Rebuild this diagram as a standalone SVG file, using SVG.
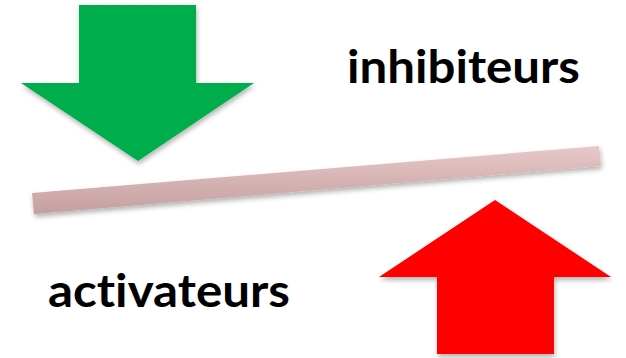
<svg xmlns="http://www.w3.org/2000/svg" width="626" height="358" viewBox="0 0 626 358">
<defs>
<filter id="sh" x="-10%" y="-10%" width="130%" height="140%">
<feDropShadow dx="1" dy="3" stdDeviation="2.5" flood-color="#000" flood-opacity="0.3"/>
</filter>
<linearGradient id="bar" x1="0" y1="0" x2="0" y2="1">
<stop offset="0" stop-color="#e8c8c8"/>
<stop offset="1" stop-color="#c49f9f"/>
</linearGradient>
</defs>
<style>
.lbl{font-family:"Lato","Open Sans","Liberation Sans",sans-serif;font-weight:bold;font-size:46px;fill:#000;font-variant-ligatures:none}
</style>
<rect width="626" height="358" fill="#fff"/>
<g id="green-arrow">
<polygon points="79,5 196,5 196,83 254,83 138,161 21,83 79,83" fill="#00ad4d" filter="url(#sh)"/>
</g>
<g id="bar-node">
<polygon points="32,193 599,146 601,166 34,214" fill="url(#bar)" filter="url(#sh)"/>
</g>
<g id="red-arrow">
<polygon points="495,200 611,277 554,277 554,354 437,354 437,277 379,277" fill="#ff0000" filter="url(#sh)"/>
</g>
<g id="label-inhibiteurs">
<text class="lbl" x="347" y="83" textLength="233" lengthAdjust="spacingAndGlyphs">inhibiteurs</text>
</g>
<g id="label-activateurs">
<text class="lbl" x="48" y="307" textLength="242" lengthAdjust="spacingAndGlyphs">activateurs</text>
</g>
<g id="connectors"></g>
</svg>
